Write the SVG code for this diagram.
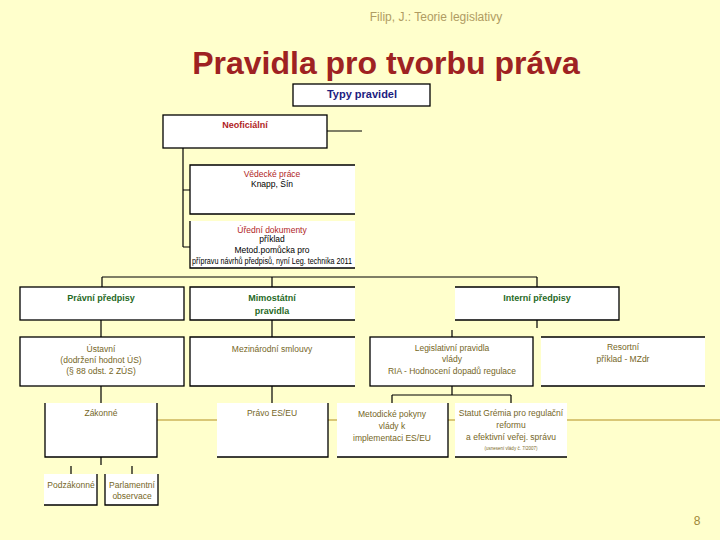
<svg xmlns="http://www.w3.org/2000/svg" width="720" height="540" viewBox="0 0 720 540">
<style>
text{font-family:"Liberation Sans",Arial,sans-serif;text-anchor:middle}
.bg{fill:#ffffcc}
.fill{fill:#ffffff;stroke:none}
.bd{fill:none;stroke:#000;stroke-width:1.3}
.ln{fill:none;stroke:#000;stroke-width:1.2}
.gold{fill:none;stroke:#cdb45a;stroke-width:1.5}
.hdr{font-size:12px;fill:#b09c62}
.ttl{font-size:32px;font-weight:bold;fill:#9e2222}
.navy{font-size:11px;font-weight:bold;fill:#1c1c80}
.red{font-size:9px;font-weight:bold;fill:#b01e1e}
.redn{font-size:8.5px;fill:#b01e1e}
.grn{font-size:9px;font-weight:bold;fill:#1f6a1f}
.ol{font-size:8.5px;fill:#756626}
.blk{font-size:8.5px;fill:#000}
.tiny{font-size:4.5px;fill:#7a6a28}
.pg{font-size:12px;fill:#a08838}
</style>
<rect class="bg" x="0" y="0" width="720" height="540"/>
<text class="hdr" x="436" y="21">Filip, J.: Teorie legislativy</text>
<text class="ttl" x="386" y="74">Pravidla pro tvorbu práva</text>

<g id="connectors">
<path class="gold" d="M157 420 H720"/>
<path class="ln" d="M327 131 H362"/>
<path class="ln" d="M183 148 V247 M183 190 H190 M183 247 H190"/>
<path class="ln" d="M102 277 H537 M102 277 V287 M272 277 V287 M537 277 V287"/>
<path class="ln" d="M101 320 V337 M272 320 V337 M537 320 V328 M452 330 V337"/>
<path class="ln" d="M101 386 V403 M272 386 V403 M452 386 V395 M392 395 H511 M392 395 V403 M511 395 V403"/>
<path class="ln" d="M101 457 V465 M71 466 V474 M132 466 V474"/>
</g>

<g id="typy">
<rect class="fill" x="293" y="84" width="137" height="22"/>
<rect class="bd" x="293" y="84" width="137" height="22"/>
<text class="navy" x="362" y="98">Typy pravidel</text>
</g>

<g id="neoficialni">
<rect class="fill" x="163" y="115" width="164" height="33"/>
<rect class="bd" x="163" y="115" width="164" height="33"/>
<text class="red" x="245" y="128">Neoficiální</text>
</g>

<g id="vedecke">
<rect class="fill" x="190" y="165" width="165" height="49"/>
<path class="bd" d="M355 165 H190 V214 H355"/>
<text class="redn" x="272" y="177">Vědecké práce</text>
<text class="blk" x="272" y="187">Knapp, Šín</text>
</g>

<g id="uredni">
<rect class="fill" x="190" y="221" width="165" height="47"/>
<path class="bd" d="M190 221 V268 H355"/>
<text class="redn" x="272" y="233">Úřední dokumenty</text>
<text class="blk" x="272" y="242">příklad</text>
<text class="blk" x="272" y="253">Metod.pomůcka pro</text>
<text class="blk" x="272" y="264" textLength="160" lengthAdjust="spacingAndGlyphs">přípravu návrhů předpisů, nyní Leg. technika 2011</text>
</g>

<g id="pravni">
<rect class="fill" x="20" y="287" width="164" height="33"/>
<rect class="bd" x="20" y="287" width="164" height="33"/>
<text class="grn" x="101" y="301">Právní předpisy</text>
</g>

<g id="mimostatni">
<rect class="fill" x="190" y="287" width="165" height="33"/>
<path class="bd" d="M355 287 H190 V320 H355"/>
<text class="grn" x="272" y="301">Mimostátní</text>
<text class="grn" x="272" y="314">pravidla</text>
</g>

<g id="interni">
<rect class="fill" x="455" y="287" width="164" height="33"/>
<path class="bd" d="M455 287 H619 V320 H455"/>
<text class="grn" x="537" y="301">Interní předpisy</text>
</g>

<g id="ustavni">
<rect class="fill" x="20" y="337" width="164" height="49"/>
<rect class="bd" x="20" y="337" width="164" height="49"/>
<text class="ol" x="101" y="352">Ústavní</text>
<text class="ol" x="101" y="363">(dodržení hodnot ÚS)</text>
<text class="ol" x="101" y="374">(§ 88 odst. 2 ZÚS)</text>
</g>

<g id="mezinarodni">
<rect class="fill" x="190" y="337" width="165" height="49"/>
<path class="bd" d="M355 337 H190 V386 H355"/>
<text class="ol" x="272" y="352">Mezinárodní smlouvy</text>
</g>

<g id="legislativni">
<rect class="fill" x="370" y="337" width="163" height="49"/>
<rect class="bd" x="370" y="337" width="163" height="49"/>
<text class="ol" x="452" y="351">Legislativní pravidla</text>
<text class="ol" x="452" y="362">vlády</text>
<text class="ol" x="452" y="374">RIA - Hodnocení dopadů regulace</text>
</g>

<g id="resortni">
<rect class="fill" x="541" y="337" width="164" height="49"/>
<path class="bd" d="M541 337 H705 M541 386 H705"/>
<text class="ol" x="623" y="350">Resortní</text>
<text class="ol" x="623" y="362">příklad - MZdr</text>
</g>

<g id="zakonne">
<rect class="fill" x="45" y="403" width="112" height="54"/>
<path class="bd" d="M45 403 V457 H157 V403"/>
<text class="ol" x="101" y="416">Zákonné</text>
</g>

<g id="pravo-eu">
<rect class="fill" x="217" y="403" width="111" height="54"/>
<path class="bd" d="M217 457 H328 V403"/>
<text class="ol" x="272" y="416">Právo ES/EU</text>
</g>

<g id="metodicke">
<rect class="fill" x="337" y="403" width="111" height="54"/>
<path class="bd" d="M337 457 H448 V403"/>
<text class="ol" x="392" y="417">Metodické pokyny</text>
<text class="ol" x="392" y="429">vlády k</text>
<text class="ol" x="392" y="441">implementaci ES/EU</text>
</g>

<g id="statut">
<rect class="fill" x="455" y="403" width="112" height="54"/>
<path class="bd" d="M455 457 H567"/>
<text class="ol" x="511" y="416">Statut Grémia pro regulační</text>
<text class="ol" x="511" y="428">reformu</text>
<text class="ol" x="511" y="440">a efektivní veřej. správu</text>
<text class="tiny" x="511" y="450">(usnesení vlády č. 7/2007)</text>
</g>

<g id="podzakonne">
<rect class="fill" x="44" y="474" width="53" height="31"/>
<path class="bd" d="M44 505 H97 V474"/>
<text class="ol" x="71" y="488">Podzákonné</text>
</g>

<g id="parlamentni">
<rect class="fill" x="105" y="474" width="53" height="31"/>
<path class="bd" d="M105 474 V505 H158 V474"/>
<text class="ol" x="132" y="488">Parlamentní</text>
<text class="ol" x="132" y="499">observace</text>
</g>

<text class="pg" x="697" y="525">8</text>
</svg>
